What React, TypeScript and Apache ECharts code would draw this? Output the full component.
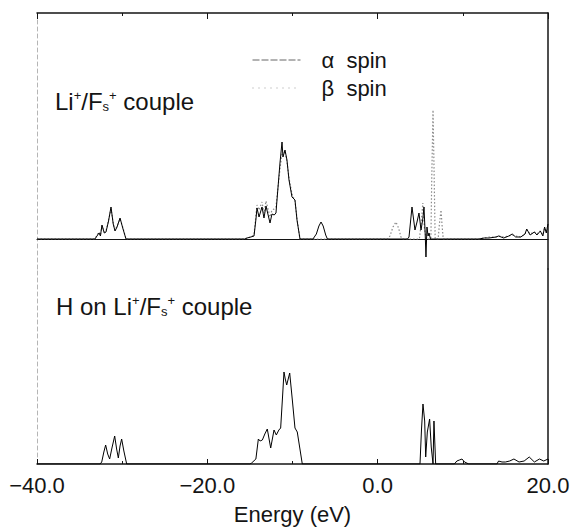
import React, { useEffect, useRef } from "react";
import * as echarts from "echarts";

// Energy axis (eV)
const X_MIN = -40;
const X_MAX = 20;
const X_INTERVAL = 20;

// Upper panel: Li+/Fs+ couple, alpha spin DOS  [energy eV, DOS a.u.]
const alphaSpin: [number, number][] = [
  [-40, 0], [-33.2, 0], [-32.96, 0.3], [-32.72, 0.6], [-32.55, 0.3], [-32.37, 1.4], [-32.1, 0.6],
  [-31.9, 0.7], [-31.6, 1.8], [-31.31, 3.2], [-31.05, 1.5], [-30.84, 0.8], [-30.6, 1.2],
  [-30.25, 2.1], [-29.9, 1.0], [-29.55, 0],
  [-15.6, 0], [-15.34, 0.1], [-14.9, 0.2], [-14.52, 0.3], [-14.29, 2.0], [-14.17, 3.1],
  [-13.93, 2.2], [-13.58, 3.2], [-13.35, 2.1], [-13.11, 3.3], [-12.64, 1.6], [-12.41, 2.5],
  [-12.15, 2.4], [-11.94, 2.6], [-11.82, 3.9], [-11.47, 7.6], [-11.23, 9.7], [-11.12, 8.2],
  [-10.88, 8.9], [-10.65, 7.9], [-10.41, 5.9], [-10.06, 4.2], [-9.71, 3.9], [-9.47, 1.9], [-9.12, 0],
  [-7.6, 0], [-7.2, 0.5], [-6.9, 1.3], [-6.65, 1.7], [-6.4, 1.3], [-6.1, 0.4], [-5.9, 0],
  [3.5, 0], [3.68, 0.2], [4.03, 3.2], [4.38, 0.9], [4.62, 1.7], [4.85, 2.6], [5.09, 0.9],
  [5.3, 2.0], [5.44, 3.2], [5.58, 0.5], [5.67, -1.8], [5.79, 1.2], [5.92, 0.3], [6.03, 0.6], [6.2, 0],
  [11.9, 0], [12.5, 0.1], [13.07, 0.1], [13.9, 0.2], [14.2, 0.3], [14.8, 0.1], [15.4, 0.3],
  [15.8, 0.5], [16.2, 0.2], [16.8, 0.2], [17.3, 0.5], [17.5, 1.0], [17.9, 0.4], [18.4, 0.7],
  [18.7, 0.4], [19.1, 0.8], [19.4, 0.3], [19.6, 1.2], [19.8, 0.6], [20, 1.5],
];

// Upper panel: beta spin DOS
const betaSpin: [number, number][] = [
  [-40, 0], [-33.2, 0], [-32.96, 0.4], [-32.72, 0.7], [-32.55, 0.4], [-32.37, 1.3], [-32.1, 0.7],
  [-31.9, 0.8], [-31.6, 1.9], [-31.31, 3.0], [-31.05, 1.6], [-30.84, 0.9], [-30.6, 1.3],
  [-30.25, 2.0], [-29.9, 1.1], [-29.55, 0],
  [-15.6, 0], [-15.34, 0.1], [-14.9, 0.2], [-14.52, 0.4], [-14.29, 2.4], [-14.17, 3.4],
  [-13.93, 2.9], [-13.58, 3.7], [-13.35, 2.6], [-13.11, 3.8], [-12.64, 2.2], [-12.41, 2.9],
  [-12.15, 3.0], [-11.94, 3.2], [-11.82, 4.2], [-11.47, 7.0], [-11.23, 8.6], [-11.12, 8.4],
  [-10.88, 8.8], [-10.65, 7.7], [-10.41, 6.1], [-10.06, 4.5], [-9.71, 3.8], [-9.47, 2.0], [-9.12, 0],
  [1.2, 0], [1.44, 0.3], [1.8, 1.2], [2.15, 1.7], [2.45, 1.1], [2.74, 0.2], [2.9, 0],
  [4.9, 0], [5.1, 1.5], [5.3, 3.6], [5.5, 1.0], [5.7, 0], [6.25, 0], [6.35, 6.0], [6.5, 12.9],
  [6.6, 8.0], [6.75, 0], [7.1, 0], [7.25, 1.5], [7.44, 2.9], [7.55, 1.5], [7.7, 0],
  [11.9, 0], [12.5, 0.1], [13.07, 0.2], [13.9, 0.2], [14.2, 0.3], [14.8, 0.2], [15.4, 0.3],
  [15.8, 0.4], [16.2, 0.3], [16.8, 0.2], [17.3, 0.5], [17.5, 0.9], [17.9, 0.5], [18.4, 0.7],
  [18.7, 0.5], [19.1, 0.8], [19.4, 0.4], [19.6, 1.1], [19.8, 0.7], [20, 1.4],
];

// Lower panel: H on Li+/Fs+ couple
const hOnCouple: [number, number][] = [
  [-40, 0], [-32.6, 0], [-32.4, 0.2], [-32.15, 1.2], [-31.94, 1.9], [-31.7, 1.0], [-31.47, 0.5],
  [-31.2, 1.6], [-30.88, 2.8], [-30.65, 1.5], [-30.45, 0.6], [-30.25, 1.8], [-30.06, 2.5],
  [-29.8, 1.3], [-29.47, 0],
  [-15.0, 0], [-14.8, 0.1], [-14.3, 0.5], [-14.01, 2.5], [-13.8, 2.3], [-13.54, 2.4], [-13.25, 3.0],
  [-12.96, 3.5], [-12.56, 1.6], [-12.17, 3.4], [-11.9, 2.9], [-11.6, 3.4], [-11.39, 3.6],
  [-11.15, 7.0], [-11.0, 9.2], [-10.85, 8.5], [-10.68, 7.9], [-10.33, 9.1], [-10.02, 6.4],
  [-9.71, 3.6], [-9.44, 3.2], [-8.85, 0],
  [4.97, 0], [5.15, 3.5], [5.32, 6.0], [5.52, 4.3], [5.64, 0.7], [5.83, 3.2], [6.1, 4.5],
  [6.29, 1.7], [6.5, 0], [6.61, 4.3], [6.81, 0],
  [9.0, 0], [9.3, 0.3], [9.6, 0.4], [9.9, 0.5], [10.2, 0.2], [10.7, 0],
  [14.0, 0], [14.2, 0.3], [14.6, 0.2], [15.0, 0.2], [15.5, 0.3], [16.0, 0.5], [16.6, 0.2],
  [17.2, 0.3], [17.8, 0.7], [18.4, 0.2], [19.0, 0.5], [19.5, 0.3], [20, 0.5],
];

const seriesNames = ["\u03b1  spin", "\u03b2  spin", "H on Li+/Fs+ couple"];

const FONT = '"Liberation Sans", Arial, Helvetica, sans-serif';
const INK = "#141414";

const fmtEnergy = (v: number) => (v < 0 ? "\u2212" : "") + Math.abs(v).toFixed(1);

const richLabel = {
  n: { fontSize: 24, lineHeight: 24, verticalAlign: "middle", fontFamily: FONT, fill: INK },
  sup: { fontSize: 13, lineHeight: 13, verticalAlign: "top", fontFamily: FONT, fill: INK },
  sub: { fontSize: 13, lineHeight: 10, verticalAlign: "bottom", fontFamily: FONT, fill: INK },
};

export default function App() {
  const ref = useRef<HTMLDivElement>(null);

  useEffect(() => {
    document.body.style.margin = "0";
    if (!ref.current) return;
    const chart = echarts.init(ref.current, undefined, { renderer: "svg" });

    const hiddenY = (gridIndex: number, min: number, max: number, position: string, light: boolean) => ({
      type: "value",
      gridIndex,
      min,
      max,
      position,
      axisLine: {
        show: true,
        onZero: false,
        lineStyle: light
          ? { color: "#b5b5b5", width: 1, type: [4, 3] }
          : { color: INK, width: 1.5 },
      },
      axisTick: { show: false },
      axisLabel: { show: false },
      splitLine: { show: false },
    });

    chart.setOption({
      animation: false,
      backgroundColor: "#ffffff",
      textStyle: { fontFamily: FONT },
      grid: [
        { left: 37, right: 26, top: 13, height: 256 },
        { left: 37, right: 26, top: 269, height: 195 },
      ],
      xAxis: [
        {
          type: "value",
          gridIndex: 0,
          min: X_MIN,
          max: X_MAX,
          interval: X_INTERVAL,
          position: "bottom",
          axisLine: { onZero: true, lineStyle: { color: INK, width: 1.2 } },
          axisTick: { show: false },
          axisLabel: { show: false },
          splitLine: { show: false },
        },
        {
          type: "value",
          gridIndex: 0,
          min: X_MIN,
          max: X_MAX,
          interval: X_INTERVAL,
          position: "top",
          axisLine: { onZero: false, lineStyle: { color: INK, width: 1.5 } },
          axisTick: { show: true, inside: true, length: 6, lineStyle: { color: INK } },
          minorTick: { show: true, splitNumber: 2, length: 3, lineStyle: { color: INK } },
          axisLabel: { show: false },
          splitLine: { show: false },
        },
        {
          type: "value",
          gridIndex: 1,
          min: X_MIN,
          max: X_MAX,
          interval: X_INTERVAL,
          position: "bottom",
          axisLine: { onZero: false, lineStyle: { color: INK, width: 1.5 } },
          axisTick: { show: true, inside: true, length: 5, lineStyle: { color: INK } },
          minorTick: { show: true, splitNumber: 2, length: 3, lineStyle: { color: INK } },
          axisLabel: {
            formatter: fmtEnergy,
            fontSize: 22,
            color: INK,
            margin: 10,
            fontFamily: FONT,
          },
          splitLine: { show: false },
          name: "Energy (eV)",
          nameLocation: "middle",
          nameGap: 39,
          nameTextStyle: { fontSize: 22, color: INK, fontFamily: FONT },
        },
      ],
      yAxis: [
        hiddenY(0, -3, 22.6, "right", false),
        hiddenY(0, -3, 22.6, "left", true),
        hiddenY(1, 0, 19.5, "right", false),
        hiddenY(1, 0, 19.5, "left", true),
      ],
      legend: {
        orient: "vertical",
        left: 247,
        top: 44,
        itemWidth: 48,
        itemHeight: 14,
        itemGap: 6,
        selectedMode: false,
        textStyle: { fontSize: 22, color: INK, fontFamily: FONT, padding: [0, 0, 0, 16] },
        data: [
          {
            name: seriesNames[0],
            itemStyle: { opacity: 0 },
            lineStyle: { color: "#666666", width: 1, type: [7, 2] },
          },
          {
            name: seriesNames[1],
            itemStyle: { opacity: 0 },
            lineStyle: { color: "#9a9a9a", width: 1, type: [1, 5] },
          },
        ],
      },
      series: [
        {
          name: seriesNames[1],
          type: "line",
          xAxisIndex: 0,
          yAxisIndex: 0,
          data: betaSpin,
          symbol: "none",
          itemStyle: { color: "#8a8a8a" },
          lineStyle: { color: "#8a8a8a", width: 1.2, type: [1.5, 2] },
          z: 2,
        },
        {
          name: seriesNames[0],
          type: "line",
          xAxisIndex: 0,
          yAxisIndex: 0,
          data: alphaSpin,
          symbol: "none",
          itemStyle: { color: "#000000" },
          lineStyle: { color: "#000000", width: 1 },
          z: 3,
        },
        {
          name: seriesNames[2],
          type: "line",
          xAxisIndex: 2,
          yAxisIndex: 2,
          data: hOnCouple,
          symbol: "none",
          itemStyle: { color: "#000000" },
          lineStyle: { color: "#000000", width: 1 },
          z: 3,
        },
      ],
      graphic: [
        {
          type: "text",
          x: 55,
          y: 101,
          style: {
            text: "{n|Li}{sup|+}{n|/F}{sub|s}{sup|+}{n| couple}",
            rich: richLabel,
            verticalAlign: "middle",
            align: "left",
          },
        },
        {
          type: "text",
          x: 56,
          y: 306,
          style: {
            text: "{n|H on Li}{sup|+}{n|/F}{sub|s}{sup|+}{n| couple}",
            rich: richLabel,
            verticalAlign: "middle",
            align: "left",
          },
        },
      ],
    });

    return () => chart.dispose();
  }, []);

  return <div ref={ref} style={{ width: 574, height: 527 }} />;
}
